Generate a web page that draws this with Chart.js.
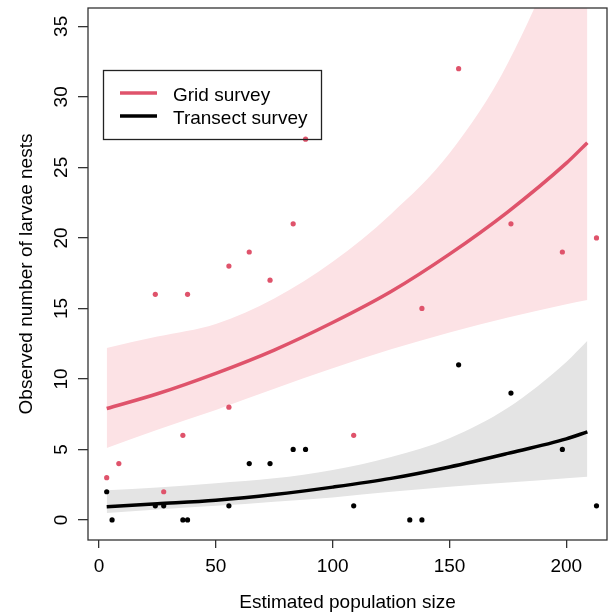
<!DOCTYPE html>
<html lang="en">
<head>
    <meta charset="UTF-8">
    <title>Larvae nests</title>
    <script src="https://cdn.jsdelivr.net/npm/chart.js"></script>
    <style>
        body { margin: 0; background: #fff; }
        canvas { display: block; }
    </style>
</head>
<body>
    <canvas id="nestsChart" width="611" height="612"></canvas>

    <script>
        // observed counts
        const gridX = [3.3, 8.5, 24.1, 27.7, 35.9, 37.9, 55.6, 55.6, 64.3, 73.2, 83.1, 88.4, 109, 138.2, 153.9, 176.3, 198.3, 212.9];
        const gridY = [3, 4, 16, 2, 6, 16, 18, 8, 19, 17, 21, 27, 6, 15, 32, 21, 19, 20];
        const transectX = [3.3, 5.6, 24.1, 27.7, 35.9, 37.9, 55.6, 64.3, 73.2, 83.1, 88.4, 109, 133, 138.2, 153.9, 176.3, 198.3, 212.9];
        const transectY = [2, 0, 1, 1, 0, 0, 1, 4, 4, 5, 5, 1, 0, 0, 11, 9, 5, 1];

        // fitted curves + confidence bands
        const fitX = [3.3, 25, 50, 75, 100, 125, 150, 175, 200, 209];
        const gridFit = [7.9, 8.95, 10.4, 12.05, 14.0, 16.2, 18.85, 21.85, 25.3, 26.75];
        const gridUpper = [12.2, 13.0, 13.9, 15.7, 18.3, 21.7, 26.0, 32.4, 42.0, 47.0];
        const gridLower = [5.1, 6.4, 7.8, 9.3, 10.75, 12.1, 13.3, 14.35, 15.3, 15.6];
        const transectFit = [0.94, 1.15, 1.4, 1.8, 2.33, 2.95, 3.76, 4.72, 5.75, 6.25];
        const transectUpper = [2.1, 2.3, 2.6, 2.95, 3.55, 4.47, 5.8, 7.95, 11.2, 12.7];
        const transectLower = [0.5, 0.75, 1.0, 1.3, 1.6, 2.0, 2.35, 2.65, 2.95, 3.07];

        const xTicks = [0, 50, 100, 150, 200];
        const yTicks = [0, 5, 10, 15, 20, 25, 30, 35];

        const RED = '#DF536B';
        const FONT = '"Liberation Sans", Arial, sans-serif';

        function pts(xs, ys) {
            return xs.map((x, i) => ({ x: x, y: ys[i] }));
        }

        function curve(label, data, color) {
            return {
                label: label, data: data, showLine: true, borderColor: color, borderWidth: 3.5,
                pointRadius: 0, fill: false, cubicInterpolationMode: 'monotone', order: 1
            };
        }

        function bandEdge(data, fill, color) {
            return {
                data: data, showLine: true, borderWidth: 0, borderColor: 'rgba(0,0,0,0)',
                pointRadius: 0, fill: fill, backgroundColor: color, capBezierPoints: false,
                cubicInterpolationMode: 'monotone', order: 2
            };
        }

        // box, rotated y labels, axis titles, legend
        const decor = {
            id: 'decor',
            afterDraw(chart) {
                const ctx = chart.ctx;
                const a = chart.chartArea;
                const ys = chart.scales.y;
                ctx.save();
                ctx.strokeStyle = '#333';
                ctx.lineWidth = 1.3;
                ctx.strokeRect(a.left, a.top, a.right - a.left, a.bottom - a.top);

                ctx.fillStyle = '#000';
                ctx.font = '19px ' + FONT;
                ctx.textAlign = 'center';
                ctx.textBaseline = 'alphabetic';
                yTicks.forEach(v => {
                    ctx.save();
                    ctx.translate(67, ys.getPixelForValue(v));
                    ctx.rotate(-Math.PI / 2);
                    ctx.fillText(String(v), 0, 0);
                    ctx.restore();
                });

                ctx.save();
                ctx.translate(32, (a.top + a.bottom) / 2);
                ctx.rotate(-Math.PI / 2);
                ctx.fillText('Observed number of larvae nests', 0, 0);
                ctx.restore();

                ctx.fillText('Estimated population size', (a.left + a.right) / 2, 608);

                // legend
                ctx.strokeStyle = '#222';
                ctx.lineWidth = 1.3;
                ctx.strokeRect(103.5, 70.5, 218, 69);
                const items = [[chart.data.datasets[2].label, RED, 93, 101], [chart.data.datasets[3].label, '#000', 116, 124]];
                ctx.textAlign = 'left';
                items.forEach(it => {
                    ctx.strokeStyle = it[1];
                    ctx.lineWidth = 3.5;
                    ctx.beginPath();
                    ctx.moveTo(120, it[2]);
                    ctx.lineTo(157, it[2]);
                    ctx.stroke();
                    ctx.fillStyle = '#000';
                    ctx.fillText(it[0], 173, it[3]);
                });
                ctx.restore();
            }
        };

        new Chart(document.getElementById('nestsChart'), {
            type: 'scatter',
            data: {
                datasets: [
                    { label: 'Grid obs', data: pts(gridX, gridY), backgroundColor: RED, borderWidth: 0, pointRadius: 2.6, order: 0 },
                    { label: 'Transect obs', data: pts(transectX, transectY), backgroundColor: '#000', borderWidth: 0, pointRadius: 2.6, order: 0 },
                    curve('Grid survey', pts(fitX, gridFit), RED),
                    curve('Transect survey', pts(fitX, transectFit), '#000'),
                    bandEdge(pts(fitX, gridLower), false, 'rgba(0,0,0,0)'),
                    bandEdge(pts(fitX, gridUpper), { target: 4 }, 'rgb(252,226,229)'),
                    bandEdge(pts(fitX, transectLower), false, 'rgba(0,0,0,0)'),
                    bandEdge(pts(fitX, transectUpper), { target: 6 }, 'rgb(228,228,228)')
                ]
            },
            options: {
                responsive: false,
                animation: false,
                devicePixelRatio: 1,
                layout: { padding: { top: 8, right: 1, left: 0, bottom: 0 } },
                plugins: {
                    legend: { display: false },
                    tooltip: { enabled: false },
                    filler: { drawTime: 'beforeDatasetsDraw' }
                },
                scales: {
                    x: {
                        type: 'linear',
                        min: -4.7,
                        max: 217.4,
                        afterBuildTicks: s => { s.ticks = xTicks.map(v => ({ value: v })); },
                        afterFit: s => { s.height = 72; },
                        grid: { drawOnChartArea: false, drawTicks: true, tickLength: 8, color: '#333', lineWidth: 1.3 },
                        border: { display: false },
                        ticks: { color: '#000', padding: 7, maxRotation: 0, font: { size: 19, family: FONT } }
                    },
                    y: {
                        type: 'linear',
                        min: -1.42,
                        max: 36.3,
                        afterBuildTicks: s => { s.ticks = yTicks.map(v => ({ value: v })); },
                        afterFit: s => { s.width = 88; },
                        grid: { drawOnChartArea: false, drawTicks: true, tickLength: 10, color: '#333', lineWidth: 1.3 },
                        border: { display: false },
                        ticks: { display: false }
                    }
                }
            },
            plugins: [decor]
        });
    </script>
</body>
</html>
